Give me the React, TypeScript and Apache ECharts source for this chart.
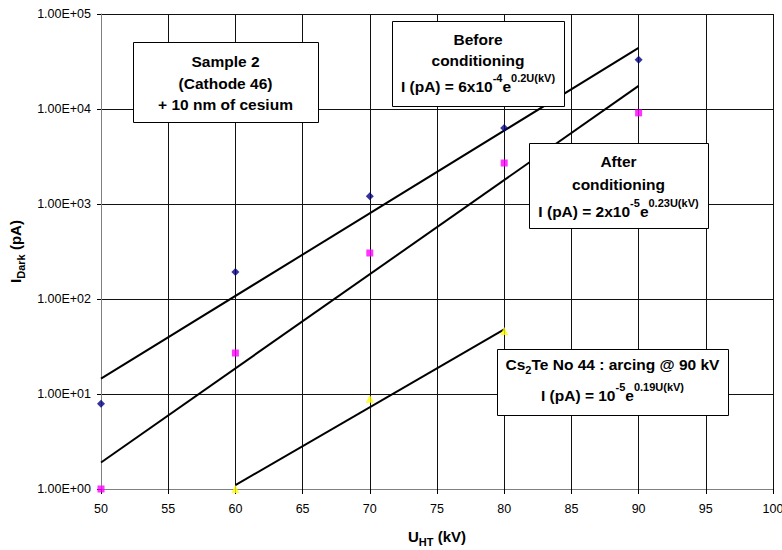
import React, { useEffect, useRef } from "react";
import * as echarts from "echarts";

const voltages = [50, 60, 70, 80, 90];
const beforeValues = [7.9, 192, 1210, 6300, 33000];
const afterValues = [1.0, 27, 305, 2700, 9100];
const arcingVoltages = [60, 70, 80];
const arcingValues = [1.0, 8.9, 46];

// Fit lines (end points)
const beforeFitU = [50, 90];
const beforeFitI = [14.5, 44000];
const afterFitU = [50, 90];
const afterFitI = [1.9, 17500];
const arcingFitU = [60, 80];
const arcingFitI = [1.1, 48];

// Axis
const xMin = 50;
const xMax = 100;
const xStep = 5;
const yMin = 1;
const yMax = 100000;

const FONT = "'Liberation Sans', Arial, Helvetica, sans-serif";

const zip = (xs: number[], ys: number[]) => xs.map((x, i) => [x, ys[i]]);

const BOX_FS = 15.5;
const SUP_FS = 11;

const boldRich = {
  b: { fontSize: BOX_FS, fontWeight: "bold", fontFamily: FONT, color: "#000", lineHeight: 22, verticalAlign: "bottom" },
  s: { fontSize: SUP_FS, fontWeight: "bold", fontFamily: FONT, color: "#000", lineHeight: 10, verticalAlign: "top" },
  sub: { fontSize: SUP_FS, fontWeight: "bold", fontFamily: FONT, color: "#000", lineHeight: 11, verticalAlign: "bottom" },
  bt: { fontSize: BOX_FS, fontWeight: "bold", fontFamily: FONT, color: "#000", lineHeight: 19, verticalAlign: "top" },
};

function boxRect(x: number, y: number, w: number, h: number) {
  return {
    type: "rect",
    z: 100,
    shape: { x: x + 0.5, y: y + 0.5, width: w, height: h },
    style: { fill: "#fff", stroke: "#000", lineWidth: 1 },
  };
}

function line(x: number, y: number, text: string) {
  return {
    type: "text",
    z: 101,
    x,
    y,
    style: {
      text,
      rich: boldRich,
      align: "center",
      verticalAlign: "middle",
      textAlign: "center",
      textVerticalAlign: "middle",
      fill: "#000",
    },
  };
}

const nameRich = {
  b: { fontSize: 15, fontWeight: "bold", fontFamily: FONT, color: "#000", lineHeight: 18, verticalAlign: "top" },
  sub: { fontSize: 11, fontWeight: "bold", fontFamily: FONT, color: "#000", lineHeight: 10, verticalAlign: "bottom" },
};

export default function App() {
  const ref = useRef<HTMLDivElement>(null);
  useEffect(() => {
    document.body.style.margin = "0";
    if (!ref.current) return;
    const chart = echarts.init(ref.current, null, { renderer: "svg" });
    const option: any = {
      animation: false,
      backgroundColor: "#fff",
      grid: { left: 101, top: 14, right: 9, bottom: 61, containLabel: false, outerBoundsMode: "none" },
      xAxis: {
        type: "value",
        min: xMin,
        max: xMax,
        interval: xStep,
        name: "{b|U}{sub|HT}{b| (kV)}",
        nameLocation: "middle",
        nameGap: 40,
        nameTextStyle: { rich: nameRich },
        axisLine: { show: true, lineStyle: { color: "#808080", width: 1 } },
        axisTick: { show: true, length: 5, lineStyle: { color: "#000" } },
        axisLabel: { fontSize: 12.5, fontFamily: FONT, color: "#000", margin: 13 },
        splitLine: { show: true, lineStyle: { color: "#111", width: 1 } },
      },
      yAxis: {
        type: "log",
        logBase: 10,
        min: yMin,
        max: yMax,
        name: "{b|I}{sub|Dark}{b| (pA)}",
        nameLocation: "middle",
        nameGap: 75,
        nameRotate: 90,
        nameTextStyle: { rich: nameRich },
        axisLine: { show: true, lineStyle: { color: "#808080", width: 1 } },
        axisTick: { show: true, length: 4, lineStyle: { color: "#000" } },
        minorTick: { show: false },
        axisLabel: {
          fontSize: 12.5,
          fontFamily: FONT,
          color: "#000",
          margin: 10,
          formatter: (v: number) => {
            const e = Math.round(Math.log10(v));
            return "1.00E+" + (e < 10 ? "0" : "") + e;
          },
        },
        splitLine: { show: true, lineStyle: { color: "#111", width: 1 } },
      },
      series: [
        {
          type: "line",
          data: zip(beforeFitU, beforeFitI),
          showSymbol: false,
          symbol: "none",
          lineStyle: { color: "#000", width: 2 },
          z: 3,
        },
        {
          type: "line",
          data: zip(afterFitU, afterFitI),
          showSymbol: false,
          symbol: "none",
          lineStyle: { color: "#000", width: 2 },
          z: 3,
        },
        {
          type: "line",
          data: zip(arcingFitU, arcingFitI),
          showSymbol: false,
          symbol: "none",
          lineStyle: { color: "#000", width: 2 },
          z: 3,
        },
        {
          type: "scatter",
          data: zip(voltages, beforeValues),
          symbol: "diamond",
          symbolSize: 8,
          itemStyle: { color: "#000080" },
          clip: false,
          z: 4,
        },
        {
          type: "scatter",
          data: zip(voltages, afterValues),
          symbol: "rect",
          symbolSize: 7,
          itemStyle: { color: "#FF00FF" },
          clip: false,
          z: 4,
        },
        {
          type: "scatter",
          data: zip(arcingVoltages, arcingValues),
          symbol: "triangle",
          symbolSize: 8,
          itemStyle: { color: "#FFFF00" },
          clip: false,
          z: 4,
        },
      ],
      graphic: [
        boxRect(133, 42, 185, 80),
        line(225.5, 58, "{b|Sample 2}"),
        line(225.5, 80, "{b|(Cathode 46)}"),
        line(225.5, 101.5, "{b|+ 10 nm of cesium}"),

        boxRect(392, 21, 172, 85),
        line(478, 36.5, "{b|Before}"),
        line(478, 57, "{b|conditioning}"),
        line(478, 83, "{b|I (pA) = 6x10}{s|-4}{b|e}{s|0.2U(kV)}"),

        boxRect(529, 143, 179, 85),
        line(618.5, 158.5, "{b|After}"),
        line(618.5, 181, "{b|conditioning}"),
        line(618.5, 208, "{b|I (pA) = 2x10}{s|-5}{b|e}{s|0.23U(kV)}"),

        boxRect(497, 349, 231, 66),
        line(612.5, 366, "{bt|Cs}{sub|2}{bt|Te No 44 : arcing @ 90 kV}"),
        line(612.5, 392, "{b|I (pA) = 10}{s|-5}{b|e}{s|0.19U(kV)}"),
      ],
    };
    chart.setOption(option);
    return () => chart.dispose();
  }, []);
  return (
    <div
      ref={ref}
      style={{ width: 782, height: 550, position: "absolute", left: 0, top: 0, background: "#fff" }}
    />
  );
}
